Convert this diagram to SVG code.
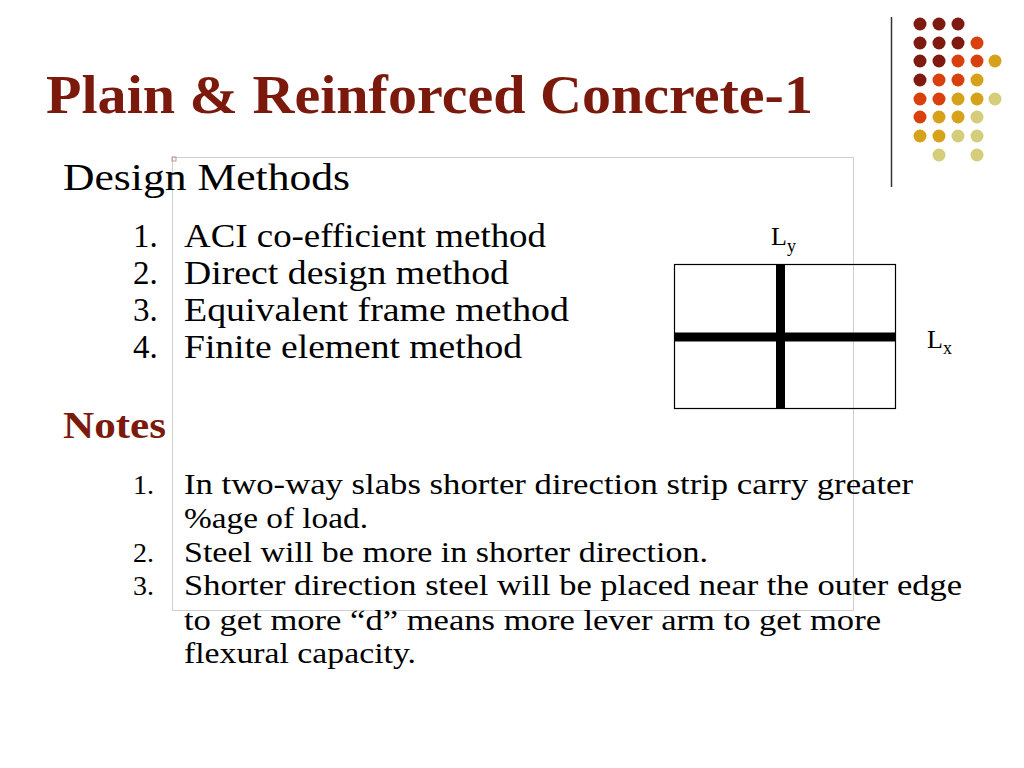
<svg xmlns="http://www.w3.org/2000/svg" width="1024" height="768" viewBox="0 0 1024 768">
<style>
.t{font-family:"Liberation Serif","Times New Roman",serif;fill:#000}
.h{font-family:"Liberation Serif","Times New Roman",serif;font-weight:bold;fill:#7b1a0c}
.d1{fill:#7e1a10}.d2{fill:#d8400e}.d3{fill:#d6a21a}.d4{fill:#d4cd7c}
</style>
<rect width="1024" height="768" fill="#fff"/>
<g id="decor">
<line x1="891.5" y1="17" x2="891.5" y2="187" stroke="#333" stroke-width="1.5"/>
<circle class="d1" cx="920" cy="24" r="6.5"/><circle class="d1" cx="939" cy="24" r="6.5"/><circle class="d1" cx="958" cy="24" r="6.5"/>
<circle class="d1" cx="920" cy="43" r="6.5"/><circle class="d1" cx="939" cy="43" r="6.5"/><circle class="d1" cx="958" cy="43" r="6.5"/><circle class="d2" cx="977" cy="43" r="6.5"/>
<circle class="d1" cx="920" cy="61" r="6.5"/><circle class="d1" cx="939" cy="61" r="6.5"/><circle class="d2" cx="958" cy="61" r="6.5"/><circle class="d2" cx="977" cy="61" r="6.5"/><circle class="d3" cx="995" cy="61" r="6.5"/>
<circle class="d1" cx="920" cy="80" r="6.5"/><circle class="d2" cx="939" cy="80" r="6.5"/><circle class="d2" cx="958" cy="80" r="6.5"/><circle class="d3" cx="977" cy="80" r="6.5"/>
<circle class="d2" cx="920" cy="99" r="6.5"/><circle class="d2" cx="939" cy="99" r="6.5"/><circle class="d3" cx="958" cy="99" r="6.5"/><circle class="d3" cx="977" cy="99" r="6.5"/><circle class="d4" cx="995" cy="99" r="6.5"/>
<circle class="d2" cx="920" cy="117" r="6.5"/><circle class="d3" cx="939" cy="117" r="6.5"/><circle class="d3" cx="958" cy="117" r="6.5"/><circle class="d4" cx="977" cy="117" r="6.5"/>
<circle class="d3" cx="920" cy="136" r="6.5"/><circle class="d3" cx="939" cy="136" r="6.5"/><circle class="d4" cx="958" cy="136" r="6.5"/><circle class="d4" cx="977" cy="136" r="6.5"/>
<circle class="d4" cx="939" cy="155" r="6.5"/><circle class="d4" cx="977" cy="155" r="6.5"/>
</g>
<g id="frame">
<rect x="172.5" y="157.5" width="681" height="453" fill="none" stroke="#cfcfcf" stroke-width="1"/>
<rect x="172" y="157" width="4" height="4" fill="none" stroke="#b08080" stroke-width="0.8"/>
</g>
<g id="title">
<text class="h" x="46" y="113" font-size="55" textLength="767" lengthAdjust="spacingAndGlyphs">Plain &amp; Reinforced Concrete-1</text>
</g>
<g id="design-methods">
<text class="t" x="63" y="190" font-size="38" textLength="287" lengthAdjust="spacingAndGlyphs">Design Methods</text>
<text class="t" x="133" y="247" font-size="33">1.</text>
<text class="t" x="184" y="247" font-size="33" textLength="362" lengthAdjust="spacingAndGlyphs">ACI co-efficient method</text>
<text class="t" x="133" y="284" font-size="33">2.</text>
<text class="t" x="184" y="284" font-size="33" textLength="325" lengthAdjust="spacingAndGlyphs">Direct design method</text>
<text class="t" x="133" y="321" font-size="33">3.</text>
<text class="t" x="184" y="321" font-size="33" textLength="385" lengthAdjust="spacingAndGlyphs">Equivalent frame method</text>
<text class="t" x="133" y="358" font-size="33">4.</text>
<text class="t" x="184" y="358" font-size="33" textLength="338" lengthAdjust="spacingAndGlyphs">Finite element method</text>
</g>
<g id="slab">
<rect x="674.5" y="264.5" width="221" height="144" fill="none" stroke="#000" stroke-width="1.2"/>
<line x1="674" y1="337" x2="896" y2="337" stroke="#000" stroke-width="9"/>
<line x1="780.5" y1="264" x2="780.5" y2="409" stroke="#000" stroke-width="9"/>
<text class="t" x="771" y="245" font-size="26">L<tspan font-size="18" dy="7">y</tspan></text>
<text class="t" x="927" y="348" font-size="26">L<tspan font-size="18" dy="6">x</tspan></text>
</g>
<g id="notes">
<text class="h" x="63" y="438" font-size="37" textLength="103" lengthAdjust="spacingAndGlyphs">Notes</text>
<text class="t" x="133" y="494" font-size="28">1.</text>
<text class="t" x="184" y="494" font-size="30" textLength="729" lengthAdjust="spacingAndGlyphs">In two-way slabs shorter direction strip carry greater</text>
<text class="t" x="184" y="528" font-size="30" textLength="184" lengthAdjust="spacingAndGlyphs">%age of load.</text>
<text class="t" x="133" y="562" font-size="28">2.</text>
<text class="t" x="184" y="562" font-size="30" textLength="524" lengthAdjust="spacingAndGlyphs">Steel will be more in shorter direction.</text>
<text class="t" x="133" y="595" font-size="28">3.</text>
<text class="t" x="184" y="595" font-size="30" textLength="778" lengthAdjust="spacingAndGlyphs">Shorter direction steel will be placed near the outer edge</text>
<text class="t" x="184" y="630" font-size="30" textLength="697" lengthAdjust="spacingAndGlyphs">to get more “d” means more lever arm to get more</text>
<text class="t" x="184" y="663" font-size="30" textLength="232" lengthAdjust="spacingAndGlyphs">flexural capacity.</text>
</g>
</svg>
